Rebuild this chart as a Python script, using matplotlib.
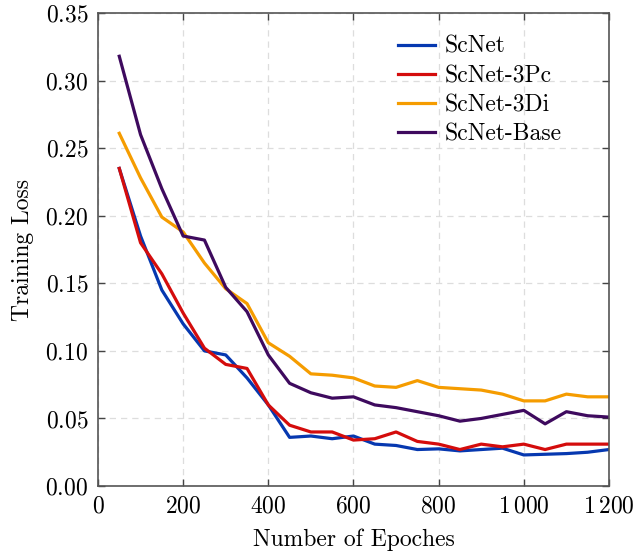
import matplotlib as mpl
mpl.use("Agg")
import matplotlib.pyplot as plt
from matplotlib.ticker import FuncFormatter, MultipleLocator

mpl.rcParams["font.family"] = ["cmr10", "DejaVu Serif"]
mpl.rcParams["mathtext.fontset"] = "cm"
mpl.rcParams["axes.formatter.use_mathtext"] = True

epochs = list(range(50, 1201, 50))
scnet = [0.235, 0.185, 0.145, 0.120, 0.100, 0.097, 0.080, 0.060, 0.036, 0.037,
         0.035, 0.037, 0.031, 0.030, 0.027, 0.0275, 0.026, 0.027, 0.028, 0.023,
         0.0235, 0.024, 0.025, 0.027]
scnet_3pc = [0.235, 0.180, 0.157, 0.128, 0.102, 0.090, 0.087, 0.060, 0.045, 0.040,
             0.040, 0.034, 0.035, 0.040, 0.033, 0.031, 0.027, 0.031, 0.029, 0.031,
             0.027, 0.031, 0.031, 0.031]
scnet_3di = [0.261, 0.228, 0.199, 0.188, 0.165, 0.146, 0.135, 0.106, 0.096, 0.083,
             0.082, 0.080, 0.074, 0.073, 0.078, 0.073, 0.072, 0.071, 0.068, 0.063,
             0.063, 0.068, 0.066, 0.066]
scnet_base = [0.318, 0.260, 0.220, 0.185, 0.182, 0.147, 0.129, 0.097, 0.076, 0.069,
              0.065, 0.066, 0.060, 0.058, 0.055, 0.052, 0.048, 0.050, 0.053, 0.056,
              0.046, 0.055, 0.052, 0.051]
labels = ["ScNet", "ScNet-3Pc", "ScNet-3Di", "ScNet-Base"]
colors = ["#0638b0", "#d40c0c", "#f59c00", "#3e0a5e"]

fig = plt.figure(figsize=(6.37, 5.54), dpi=100)
ax = fig.add_axes([0.1538, 0.1227, 0.8022, 0.8538])

for series, lab, col in zip([scnet, scnet_3pc, scnet_3di, scnet_base], labels, colors):
    ax.plot(epochs, series, color=col, lw=2.3, label=lab)

ax.set_xlim(0, 1200)
ax.set_ylim(0, 0.35)
ax.xaxis.set_major_locator(MultipleLocator(200))
ax.yaxis.set_major_locator(MultipleLocator(0.05))


def xfmt(v, pos):
    v = int(round(v))
    if v >= 1000:
        return r"$%d\,%03d$" % (v // 1000, v % 1000)
    return r"$%d$" % v


ax.xaxis.set_major_formatter(FuncFormatter(xfmt))
ax.yaxis.set_major_formatter(FuncFormatter(lambda v, p: r"$%.2f$" % v))
ax.tick_params(direction="in", top=True, right=True, labelsize=17, length=5,
               width=1.0, color="#444444", pad=7)
ax.grid(True, ls=(0, (5, 4)), color="#dddddd", lw=0.9)
for s in ax.spines.values():
    s.set_color("#555555")
    s.set_linewidth(1.2)

ax.set_xlabel("Number of Epoches", fontsize=17, labelpad=8)
ax.set_ylabel("Training Loss", fontsize=17, labelpad=8)
ax.legend(loc="upper left", frameon=False, fontsize=17, handlelength=1.6,
          handletextpad=0.4, labelspacing=0.3, bbox_to_anchor=(0.545, 0.997))

fig.savefig("out.png", dpi=100)
